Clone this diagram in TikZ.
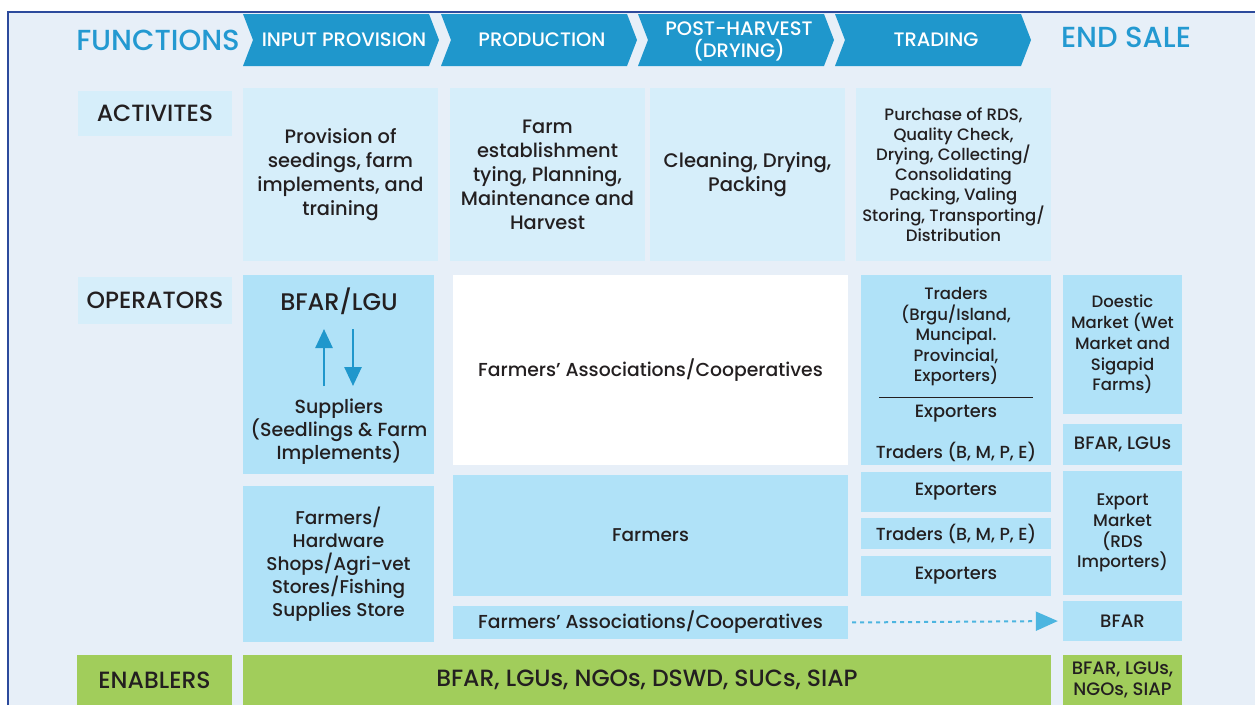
\documentclass[tikz,border=0pt]{standalone}
\usepackage{fontspec}
\setmainfont{Poppins Medium}
\usetikzlibrary{arrows.meta}
\definecolor{bg}{HTML}{E7EFF8}
\definecolor{frame}{HTML}{2C4A9C}
\definecolor{chev}{HTML}{1F97CC}
\definecolor{titleblue}{HTML}{2399D1}
\definecolor{lightbox}{HTML}{D6EEFA}
\definecolor{medbox}{HTML}{B0E2F8}
\definecolor{green}{HTML}{A1CD5B}
\definecolor{ink}{HTML}{231F20}
\definecolor{dashblue}{HTML}{4CB5E0}
\newcommand\fs[2]{\fontsize{#1}{#2}\selectfont}
\newcommand\bx[7]{\node[#6,minimum width={(#4-#2)*1pt},minimum height={(#5-#3)*1pt}] (#1) at ({(#2+#4)/2},{(#3+#5)/2}) {#7};}
\newcommand\chevron[4]{%
  \fill[chev] (#1,14) -- ({#1+186},14) -- ({#1+196},40) -- ({#1+186},66) -- (#1,66) -- ({#1+10},40) -- cycle;
  \node[chevtext] (#2) at ({#1+101},#4) {#3};}
\tikzset{
  basebox/.style={inner sep=0pt, align=center, text=ink},
  lbox/.style={basebox, fill=lightbox},
  mbox/.style={basebox, fill=medbox},
  wbox/.style={basebox, fill=white},
  gbox/.style={basebox, fill=green},
  chevtext/.style={text=white, align=center, font=\fs{19.5}{21}},
  headtext/.style={text=titleblue, font=\fs{29}{30}},
  rowlabel/.style={font=\fs{23.5}{26}},
  txt/.style={text=ink, align=center, inner sep=0pt},
  updown/.style={chev, line width=2.6pt, -{Triangle[length=19pt,width=17pt]}},
}
\begin{document}
\begin{tikzpicture}[x=1pt,y=-1pt]
\useasboundingbox (0,0) rectangle (1255,705);
\fill[white] (0,0) rectangle (1255,705);
\fill[bg] (8,12) rectangle (1255,705);
\draw[frame, line width=2.5pt] (8,705) -- (8,12) -- (1255,12);
% header
\node[headtext] (functions) at (158,40) {FUNCTIONS};
\chevron{243}{c1}{INPUT PROVISION}{40}
\chevron{441}{c2}{PRODUCTION}{40}
\chevron{638}{c3}{POST-HARVEST\\[1pt](DRYING)}{41.5}
\chevron{835}{c4}{TRADING}{40}
\node[headtext] (endsale) at (1126,37) {END SALE};
% activities
\bx{actl}{78}{91}{232}{136}{lbox, rowlabel}{ACTIVITES}
\bx{a1}{243}{88}{438}{261}{lbox, font=\fs{19.4}{24}}{Provision of\\seedings, farm\\implements, and\\training}
\bx{a2}{450}{88}{645}{261}{lbox, font=\fs{19.4}{24}}{Farm\\establishment\\tying, Planning,\\Maintenance and\\Harvest}
\bx{a3}{650}{88}{845}{261}{lbox, font=\fs{19.6}{24}}{Cleaning, Drying,\\Packing}
\bx{a4}{856}{88}{1051}{261}{lbox, font=\fs{16.5}{19.7}}{Purchase of RDS,\\Quality Check,\\Drying, Collecting/\\Consolidating\\Packing, Valing\\Storing, Transporting/\\Distribution}
% operators
\bx{opl}{78}{277}{232}{324}{lbox, rowlabel}{OPERATORS}
\bx{bfarbox}{243}{275}{434}{474}{mbox}{}
\node[txt, font=\fs{24}{26}] (bfarlgu) at (339,301) {BFAR/LGU};
\node[txt, font=\fs{19}{23}] (suppliers) at (339,432) {Suppliers\\(Seedlings \& Farm\\Implements)};
\coordinate (upS) at (324,386);
\coordinate (upE) at (324,329);
\coordinate (dnS) at (353,329);
\coordinate (dnE) at (353,386);
\draw[updown] (upS) -- (upE);
\draw[updown] (dnS) -- (dnE);
\bx{fac1}{453}{275}{848}{465}{wbox, font=\fs{18.8}{23}}{Farmers’ Associations/Cooperatives}
\bx{trbox}{861}{275}{1051}{465}{mbox}{}
\node[txt, font=\fs{16.5}{20.5}] (traders) at (956,337) {Traders\\(Brgu/Island,\\Muncipal.\\Provincial,\\Exporters)};
\coordinate (sepL) at (879,397);
\coordinate (sepR) at (1033,397);
\draw[ink, line width=1pt] (sepL) -- (sepR);
\node[txt, font=\fs{17.8}{20}] (exp0) at (956,414) {Exporters};
\node[txt, font=\fs{17.5}{20}] (trd0) at (956,452) {Traders (B, M, P, E)};
\bx{dom}{1063}{275}{1182}{414}{mbox, font=\fs{16.5}{20.7}}{Doestic\\Market (Wet\\Market and\\Sigapid\\Farms)}
\bx{bl}{1063}{424}{1182}{465}{mbox, font=\fs{18}{20}}{BFAR, LGUs}
\bx{hw}{243}{486}{434}{642}{mbox, font=\fs{18.5}{23}}{Farmers/\\Hardware\\Shops/Agri-vet\\Stores/Fishing\\Supplies Store}
\bx{farmers}{453}{475}{848}{596}{mbox, font=\fs{18.5}{23}}{Farmers}
\bx{fac2}{453}{606}{848}{639}{mbox, font=\fs{18.8}{23}}{Farmers’ Associations/Cooperatives}
\bx{exp1}{861}{472}{1051}{512}{mbox, font=\fs{17.8}{20}}{Exporters}
\bx{trd1}{861}{518}{1051}{549}{mbox, font=\fs{17.5}{20}}{Traders (B, M, P, E)}
\bx{exp2}{861}{556}{1051}{596}{mbox, font=\fs{17.8}{20}}{Exporters}
\bx{expm}{1063}{471}{1182}{595}{mbox, font=\fs{16.8}{20.7}}{Export\\Market\\(RDS\\Importers)}
\bx{bfar}{1063}{601}{1182}{641}{mbox, font=\fs{18}{20}}{BFAR}
\draw[dashblue, line width=2pt, dash pattern=on 4pt off 4pt, shorten <=4pt, shorten >=5pt, -{Triangle[length=22pt,width=19pt]}] (fac2.east) -- (bfar.west);
% enablers
\bx{enl}{77}{655}{232}{705}{gbox, rowlabel}{ENABLERS}
\bx{en1}{243}{655}{1051}{705}{gbox, font=\fs{23.5}{26}}{BFAR, LGUs, NGOs, DSWD, SUCs, SIAP}
\bx{en2}{1063}{655}{1182}{705}{gbox, font=\fs{18}{21}}{BFAR, LGUs,\\NGOs, SIAP}
\end{tikzpicture}
\end{document}
